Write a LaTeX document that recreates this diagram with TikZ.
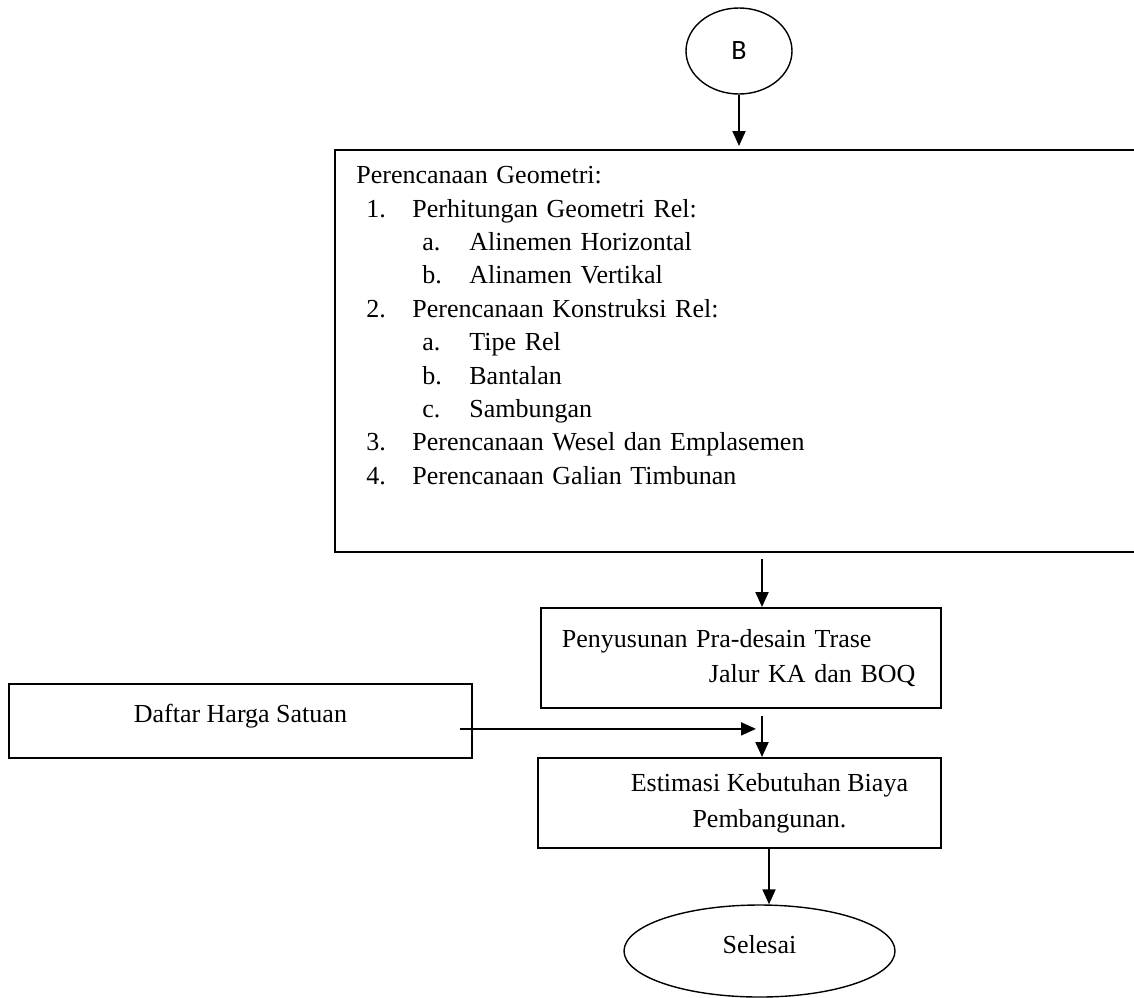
\documentclass[tikz,border=0pt]{standalone}
\usepackage{fontspec}
\setmainfont{Liberation Serif}
\newfontfamily\calibri{Carlito}
\usetikzlibrary{arrows.meta,shapes.geometric}
\newcommand{\numitem}[2]{\hspace*{5pt}\makebox[23pt][l]{#1}#2}
\newcommand{\letitem}[2]{\hspace*{33pt}\makebox[23.5pt][l]{#1}#2}
\tikzset{
  box/.style={draw, line width=0.9pt, rectangle, inner sep=0pt},
  oval/.style={draw, line width=0.7pt, ellipse, inner sep=0pt},
  arr/.style={line width=1pt, -{Triangle[length=7.5pt,width=6.5pt]}}
}
\begin{document}
\begin{tikzpicture}[x=0.5pt, y=-0.5pt, font={\fontsize{13pt}{16.7pt}\selectfont}]
\useasboundingbox (0,0) rectangle (1134,997);
\clip (0,0) rectangle (1134,997);

% start
\node[oval, minimum width=53pt, minimum height=43pt, font={\calibri\fontsize{14pt}{17pt}\selectfont}] (b) at (739,51) {B};

% geometri
\node[box, anchor=north west, minimum width=413pt, minimum height=201pt] (geo) at (334,149) {};
\node[anchor=north west, inner sep=0pt, text width=380pt, align=left] (geotext) at (356,166) {Perencanaan Geometri:\\
  \numitem{1.}{Perhitungan Geometri Rel:}\\
  \letitem{a.}{Alinemen Horizontal}\\
  \letitem{b.}{Alinamen Vertikal}\\
  \numitem{2.}{Perencanaan Konstruksi Rel:}\\
  \letitem{a.}{Tipe Rel}\\
  \letitem{b.}{Bantalan}\\
  \letitem{c.}{Sambungan}\\
  \numitem{3.}{Perencanaan Wesel dan Emplasemen}\\
  \numitem{4.}{Perencanaan Galian Timbunan}};

% pra-desain, harga, estimasi
\node[box, anchor=north west, minimum width=200pt, minimum height=50pt, text width=179pt, inner xsep=10.5pt, align=left, font={\fontsize{13pt}{17.5pt}\selectfont}] (pra) at (540,607) {Penyusunan Pra-desain Trase\\\hspace*{73.5pt}Jalur KA dan BOQ};
\node[box, anchor=north west, minimum width=231.5pt, minimum height=37pt, text height=9pt, text depth=7pt] (daftar) at (8,683) {Daftar Harga Satuan};
\node[box, anchor=north west, minimum width=201.5pt, minimum height=45pt, align=center, font={\fontsize{13pt}{18pt}\selectfont}] (est) at (537,757) {\hspace*{30pt}Estimasi Kebutuhan Biaya\\\hspace*{30pt}Pembangunan.};

% end
\node[oval, minimum width=135.5pt, minimum height=46pt, text height=9pt, text depth=7pt] (end) at (759.5,951) {Selesai};

% arrows
\coordinate (c1) at (762,0);
\coordinate (c2) at (769,0);
\coordinate (din) at ([xshift=-6.5pt,yshift=-4pt]daftar.east);
\draw[arr, shorten >=1.5pt] (b) -- (b |- geo.north);
\draw[arr, shorten <=3pt] (c1 |- geo.south) -- (c1 |- pra.north);
\draw[arr, shorten <=3.5pt] (c1 |- pra.south) -- (c1 |- est.north);
\draw[arr] (din) -- ([xshift=-3pt]c1 |- din);
\draw[arr] (c2 |- est.south) -- (c2 |- end.north);
\end{tikzpicture}
\end{document}
